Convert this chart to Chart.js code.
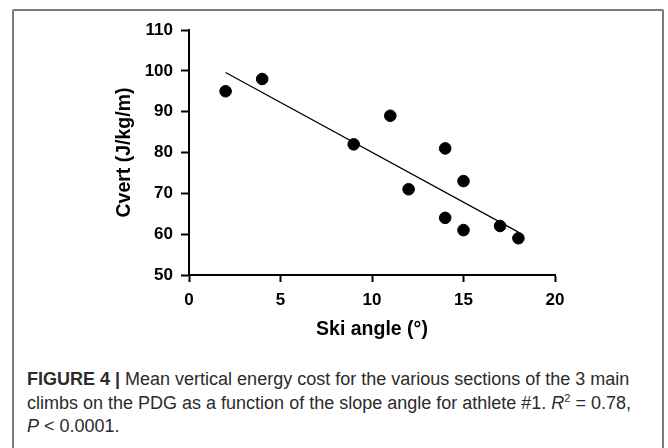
<!DOCTYPE html>
<html>
<head>
<meta charset="utf-8">
<script src="https://cdn.jsdelivr.net/npm/chart.js@4.4.1/dist/chart.umd.min.js"></script>
<style>
  html, body { margin: 0; padding: 0; background: #fff; }
  body { width: 668px; height: 448px; position: relative; overflow: hidden; }
  .frame {
    position: absolute; left: 12px; top: 9px; width: 652px; height: 460px;
    border: 2px solid #7a7a7a; border-radius: 2px; box-sizing: border-box;
  }
  .chartBox { position: absolute; left: 0; top: 0; width: 668px; height: 345px; }
  .caption {
    position: absolute; left: 27px; top: 368px; width: 636px;
    font-family: "Liberation Sans", Arial, sans-serif; font-size: 18px;
    line-height: 23.5px; color: #2b2b2b; white-space: nowrap;
  }
</style>
</head>
<body>
<div class="frame"></div>
<div class="chartBox"><canvas id="myChart" width="668" height="345"></canvas></div>
<div class="caption">
  <b>FIGURE 4 |</b> Mean vertical energy cost for the various sections of the 3 main<br>
  climbs on the PDG as a function of the slope angle for athlete #1. <i>R</i><sup style="font-size:11px;line-height:0">2</sup> = 0.78,<br>
  <i>P</i> &lt; 0.0001.
</div>
<script>
// data
const skiAngle = [2, 4, 9, 11, 12, 14, 14, 15, 15, 17, 18];
const cvert = [95, 98, 82, 89, 71, 81, 64, 73, 61, 62, 59];
// fitted line ends
const fitX = [2, 18];
const fitY = [99.6, 60.5];
const xTicks = [0, 5, 10, 15, 20];
const yTicks = [50, 60, 70, 80, 90, 100, 110];

const axisFont = "'Liberation Sans', Arial, sans-serif";

const ctx = document.getElementById('myChart').getContext('2d');
new Chart(ctx, {
  type: 'scatter',
  data: {
    datasets: [
      {
        label: 'Cvert',
        data: skiAngle.map((x, i) => ({x: x, y: cvert[i]})),
        backgroundColor: '#000',
        borderColor: '#000',
        pointRadius: 5.8,
        pointHoverRadius: 5.8,
      },
      {
        type: 'line',
        label: 'fit',
        data: fitX.map((x, i) => ({x: x, y: fitY[i]})),
        borderColor: '#000',
        borderWidth: 1.2,
        pointRadius: 0,
        fill: false,
      },
    ],
  },
  options: {
    responsive: false,
    animation: false,
    devicePixelRatio: 1,
    layout: {padding: {left: 109, top: 30, right: 113, bottom: 0}},
    plugins: {legend: {display: false}, tooltip: {enabled: false}},
    scales: {
      x: {
        type: 'linear',
        min: 0,
        max: 20,
        afterFit: (s) => { s.height = 70; },
        afterBuildTicks: (s) => { s.ticks = xTicks.map(v => ({value: v})); },
        border: {display: true, color: '#000', width: 2},
        grid: {display: true, drawOnChartArea: false, color: '#000', tickLength: 7, tickWidth: 2},
        ticks: {color: '#000', font: {family: axisFont, size: 17, weight: 'bold'}, padding: 8},
        title: {display: true, text: 'Ski angle (°)', color: '#000',
          font: {family: axisFont, size: 19.5, weight: 'bold'}, padding: {top: 5}},
      },
      y: {
        type: 'linear',
        min: 50,
        max: 110,
        afterFit: (s) => { s.width = 80; },
        afterBuildTicks: (s) => { s.ticks = yTicks.map(v => ({value: v})); },
        border: {display: true, color: '#000', width: 2},
        grid: {display: true, drawOnChartArea: false, color: '#000', tickLength: 8, tickWidth: 2},
        ticks: {color: '#000', font: {family: axisFont, size: 17, weight: 'bold'}, padding: 8},
        title: {display: true, text: 'Cvert (J/kg/m)', color: '#000',
          font: {family: axisFont, size: 19.5, weight: 'bold'}, padding: {bottom: 2}},
      },
    },
  },
});
</script>
</body>
</html>
